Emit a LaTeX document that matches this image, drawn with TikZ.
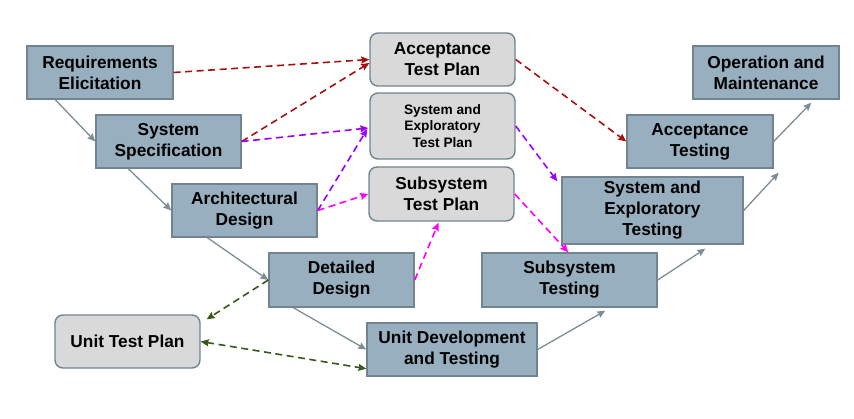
\documentclass[tikz,border=0pt]{standalone}
\usepackage{fontspec}
\setmainfont{Liberation Sans}
\usetikzlibrary{arrows.meta}
\definecolor{phasefill}{HTML}{98AFBF}
\definecolor{boxline}{HTML}{72848F}
\definecolor{planfill}{HTML}{D9D9D9}
\definecolor{flowgray}{HTML}{7D8D96}
\definecolor{accred}{HTML}{A81010}
\definecolor{syspurple}{HTML}{9900FF}
\definecolor{submagenta}{HTML}{FF00FF}
\definecolor{unitgreen}{HTML}{38571A}
\tikzstyle{phase} = [rectangle, minimum height=53pt, inner sep=0pt, align=center, draw=boxline, line width=1.4pt, fill=phasefill, font=\fontsize{17.3}{21}\selectfont\bfseries]
\tikzstyle{plan} = [rectangle, rounded corners=8pt, minimum width=145pt, minimum height=53pt, inner sep=0pt, align=center, draw=boxline, line width=1.4pt, fill=planfill, font=\fontsize{17.3}{21}\selectfont\bfseries]
\tikzstyle{arrow} = [line width=1.3pt, draw=flowgray, ->, >={Stealth[length=8pt,width=7pt,inset=1pt]}]
\tikzstyle{planlink} = [line width=1.6pt, dash pattern=on 7pt off 4.5pt, ->, >={Stealth[length=8pt,width=7pt,inset=1pt]}]

\begin{document}
\begin{tikzpicture}[x=1pt, y=1pt]
\useasboundingbox (0,0) rectangle (854,418);

% left leg of the V
\node (req) [phase, minimum width=146pt] at (100,345.5) {Requirements\\Elicitation};
\node (sysspec) [phase, minimum width=145pt] at (168.5,276.5) {System\\Specification};
\node (arch) [phase, minimum width=145pt] at (244.5,207.5) {Architectural\\Design};
\node (detail) [phase, minimum width=145pt, minimum height=54pt] at (341.5,138) {Detailed\\Design};
\node (unitdev) [phase, minimum width=170pt] at (452,68.5) {Unit Development\\and Testing};

% right leg of the V
\node (subtest) [phase, minimum width=175pt, minimum height=54pt] at (569.5,138) {Subsystem\\Testing};
\node (systest) [phase, minimum width=181pt, minimum height=67pt] at (652.5,207.5) {System and\\Exploratory\\Testing};
\node (acctest) [phase, minimum width=146pt] at (700,276.5) {Acceptance\\Testing};
\node (opmaint) [phase, minimum width=146pt] at (766,345.5) {Operation and\\Maintenance};

% test plans
\node (acctp) [plan] at (442.5,358.5) {Acceptance\\Test Plan};
\node (sysexptp) [plan, minimum height=66pt, font=\fontsize{13.7}{16.4}\selectfont\bfseries] at (442.5,292) {System and\\Exploratory\\Test Plan};
\node (subtp) [plan, minimum height=54pt] at (441.5,224) {Subsystem\\Test Plan};
\node (unittp) [plan] at (127.5,76.5) {Unit Test Plan};

\draw [arrow] ([xshift=29pt]req.south west) -- (sysspec.west);
\draw [arrow] ([xshift=33pt]sysspec.south west) -- (arch.west);
\draw [arrow] ([xshift=36pt]arch.south west) -- (detail.west);
\draw [arrow] ([xshift=25pt]detail.south west) -- (unitdev.west);
\draw [arrow] (unitdev.east) -- ([xshift=124pt,yshift=-3pt]subtest.south west);
\draw [arrow] (subtest.east) -- ([xshift=144pt,yshift=-4pt]systest.south west);
\draw [arrow] (systest.east) -- ([xshift=5pt,yshift=-4pt]acctest.south east);
\draw [arrow] (acctest.east) -- ([xshift=119pt,yshift=-3pt]opmaint.south west);

\draw [planlink, accred] (req.east) -- (acctp.west);
\draw [planlink, accred] (sysspec.east) -- ([yshift=-3.5pt]acctp.west);
\draw [planlink, accred] (acctp.east) -- (acctest.west);
\draw [planlink, syspurple] (sysspec.east) -- ([xshift=-1pt,yshift=-2pt]sysexptp.west);
\draw [planlink, syspurple] (arch.east) -- ([xshift=-2pt,yshift=-3pt]sysexptp.west);
\draw [planlink, syspurple] (sysexptp.east) -- ([xshift=-4pt,yshift=-5pt]systest.north west);
\draw [planlink, submagenta] (arch.east) -- (subtp.west);
\draw [planlink, submagenta] (detail.east) -- ([xshift=-3pt,yshift=-1pt]subtp.south);
\draw [planlink, submagenta] (subtp.east) -- ([xshift=87pt]subtest.north west);
\draw [planlink, unitgreen] (detail.west) -- ([xshift=6pt,yshift=-5pt]unittp.north east);
\draw [planlink, unitgreen, <->] (unittp.east) -- ([yshift=8pt]unitdev.south west);

\end{tikzpicture}
\end{document}
